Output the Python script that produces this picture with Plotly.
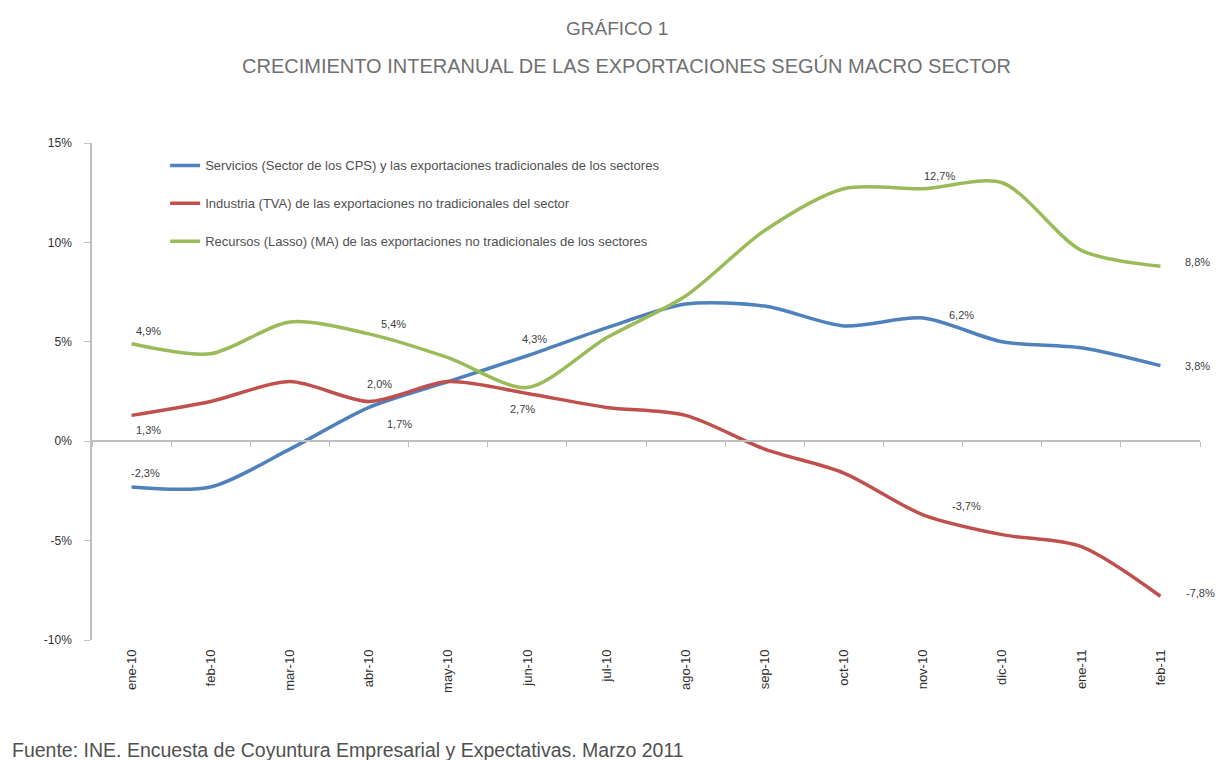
import plotly.graph_objects as go

categories = ["ene-10", "feb-10", "mar-10", "abr-10", "may-10", "jun-10", "jul-10",
              "ago-10", "sep-10", "oct-10", "nov-10", "dic-10", "ene-11", "feb-11"]

series_names = [
    "Servicios (Sector de los CPS) y las exportaciones tradicionales de los sectores",
    "Industria (TVA) de las exportaciones no tradicionales del sector",
    "Recursos (Lasso) (MA) de las exportaciones no tradicionales de los sectores",
]
blue_vals = [-2.3, -2.3, -0.4, 1.7, 3.0, 4.3, 5.7, 6.9, 6.8, 5.8, 6.2, 5.0, 4.7, 3.8]
red_vals = [1.3, 2.0, 3.0, 2.0, 3.0, 2.4, 1.7, 1.3, -0.4, -1.6, -3.7, -4.7, -5.3, -7.8]
green_vals = [4.9, 4.4, 6.0, 5.4, 4.2, 2.7, 5.2, 7.3, 10.6, 12.7, 12.7, 13.0, 9.6, 8.8]

# label offsets (pixels) for the points that carry a data label: index -> (dx, dy)
blue_label_off = {0: (14, -14), 3: (30, 17), 5: (7, -17), 10: (38, -3), 13: (37, 0)}
red_label_off = {0: (17, 15), 3: (10, -17), 10: (43, -9), 13: (40, -3)}
green_label_off = {0: (17, -13), 3: (24, -10), 5: (-5, 21), 10: (16, -13), 13: (37, -4)}

y_ticks = [-10, -5, 0, 5, 10, 15]
y_tick_labels = ["-10%", "-5%", "0%", "5%", "10%", "15%"]

colors = ["#4F81BD", "#C0504D", "#9BBB59"]

def fmt(v):
    return f"{v:.1f}%".replace(".", ",")

fig = go.Figure()
annotations = []
for name, vals, offs, col in zip(series_names, [blue_vals, red_vals, green_vals],
                                 [blue_label_off, red_label_off, green_label_off], colors):
    fig.add_trace(go.Scatter(
        x=categories, y=vals, name=name, mode="lines",
        line=dict(color=col, width=3.5, shape="spline", smoothing=0.8),
        legendgroup=name,
    ))
    for i, (dx, dy) in offs.items():
        annotations.append(dict(
            x=categories[i], y=vals[i], xref="x", yref="y", text=fmt(vals[i]),
            showarrow=False, xshift=dx, yshift=-dy, xanchor="center", yanchor="middle",
            font=dict(size=11, color="#404040", family="Liberation Sans"),
        ))

# invisible trace on xaxis2 to show the zero axis line with ticks
fig.add_trace(go.Scatter(x=categories, y=[None] * len(categories), xaxis="x2",
                         showlegend=False, hoverinfo="skip"))

annotations += [
    dict(text="GRÁFICO 1", xref="paper", yref="paper", x=0.474, y=1.231,
         yanchor="middle", showarrow=False, font=dict(size=19, color="#707070")),
    dict(text="CRECIMIENTO INTERANUAL DE LAS EXPORTACIONES SEGÚN MACRO SECTOR",
         xref="paper", yref="paper", x=0.482, y=1.155, yanchor="middle",
         showarrow=False, font=dict(size=20, color="#707070")),
    dict(text="Fuente: INE. Encuesta de Coyuntura Empresarial y Expectativas. Marzo 2011",
         xref="paper", yref="paper", x=-0.074, y=-0.222, xanchor="left",
         yanchor="middle", showarrow=False, font=dict(size=19.5, color="#505050")),
]

fig.update_layout(
    width=1224, height=760,
    margin=dict(l=84, r=32, t=135, b=128),
    paper_bgcolor="white", plot_bgcolor="white",
    font=dict(family="Liberation Sans", color="#404040"),
    showlegend=True,
    legend=dict(x=0.066, y=0.985, xanchor="left", yanchor="top",
                font=dict(size=13, color="#505050"), tracegroupgap=18,
                bgcolor="rgba(0,0,0,0)"),
    xaxis=dict(type="category", showgrid=False, showline=False, zeroline=False,
               ticks="", tickangle=-90, tickfont=dict(size=13, color="#303030"),
               ticklabelstandoff=6,
               range=[-0.5, len(categories) - 0.5]),
    xaxis2=dict(type="category", overlaying="x", anchor="free", position=0.4,
                showline=True, linecolor="#BFBFBF", linewidth=1.5,
                ticks="outside", tickson="boundaries", ticklen=5, tickcolor="#BFBFBF",
                showticklabels=False, showgrid=False, zeroline=False,
                range=[-0.5, len(categories) - 0.5]),
    yaxis=dict(range=[-10, 15], tickvals=y_ticks, ticktext=y_tick_labels,
               showgrid=False, zeroline=False, showline=True, linecolor="#BFBFBF",
               linewidth=1.5, ticks="outside", ticklen=6, tickcolor="#BFBFBF",
               ticklabelstandoff=10,
               tickfont=dict(size=12, color="#303030")),
    annotations=annotations,
)

fig.write_html("out.html")
